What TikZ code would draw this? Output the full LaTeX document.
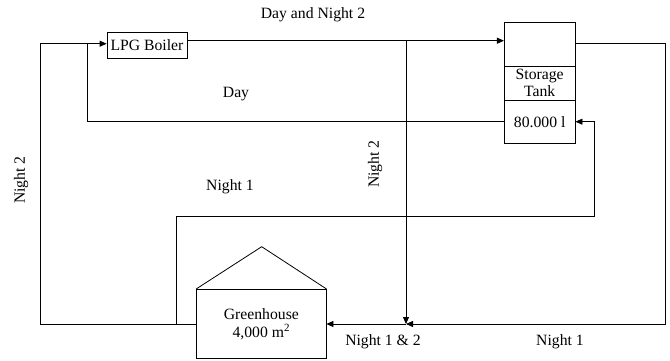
\documentclass[tikz,border=0pt]{standalone}
\usepackage{fontspec}
\setmainfont{Liberation Serif}
\usetikzlibrary{arrows.meta}
\begin{document}
\begin{tikzpicture}[x=1pt,y=-1pt,
  every node/.style={font=\fontsize{15.7}{19}\selectfont},
  box/.style={draw,line width=0.8pt,inner sep=0pt,align=center},
  pipe/.style={draw,line width=0.8pt},
  arr/.style={pipe,-{Triangle[length=7pt,width=6pt]}},
  lbl/.style={inner sep=0pt}]
\useasboundingbox (0,0) rectangle (670,361);
% components
\node[box,minimum width=80pt,minimum height=26pt] (boiler) at (147,45) {LPG Boiler};
\node[box,minimum width=70.7pt,minimum height=43.3pt] (tanktop) at (539.7,44.35) {};
\node[box,minimum width=70.7pt,minimum height=34.7pt] (tankmid) at (539.7,83.35) {Storage\\[-2pt]Tank};
\node[box,minimum width=70.7pt,minimum height=42.6pt] (tankbot) at (539.7,122) {80.000 l};
\node[box,minimum width=129.3pt,minimum height=69pt] (gh) at (261.35,323.8) {Greenhouse\\[-1pt]4,000 m\textsuperscript{2}};
\draw[pipe,line join=miter] (gh.north west) -- (261.7,246.7) -- (gh.north east);
% junctions
\coordinate (j1) at (406,40.7);
\coordinate (j2) at (406,324);
% connectors
\draw[arr] (boiler.east |- j1) -- (tanktop.west |- j1);
\draw[arr] (j1) -- (j2);
\draw[arr] (tanktop.east |- 0,43.3) -- (665,43.3) -- (665,324) -- (j2);
\draw[arr] (j2) -- (gh.east |- j2);
\draw[arr] (gh.west |- j2) -- (40,324) -- (40,43.7) -- (boiler.west |- 0,43.7);
\draw[pipe] (tankbot.west |- 0,121.7) -- (87.7,121.7) -- (87.7,43.7);
\draw[arr] (176.7,324) -- (176.7,216.7) -- (594.3,216.7) -- (594.3,121.7) -- (tankbot.east |- 0,121.7);
% labels
\node[lbl] (l1) at (313,15) {Day and Night 2};
\node[lbl] (l2) at (236,94) {Day};
\node[lbl] (l3) at (230,187) {Night 1};
\node[lbl,rotate=90] (l4) at (21,180) {Night 2};
\node[lbl,rotate=90] (l5) at (375,164) {Night 2};
\node[lbl] (l6) at (383,342) {Night 1 \& 2};
\node[lbl] (l7) at (560,342) {Night 1};
\end{tikzpicture}
\end{document}
